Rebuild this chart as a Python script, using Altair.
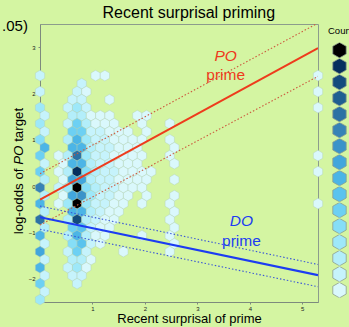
import altair as alt
import pandas as pd

# ---------------- data ----------------
x_domain = [0, 5.3]
y_domain = [-2.5, 3.5]
x_ticks = [1, 2, 3, 4, 5]
y_ticks = [-2, -1, 0, 1, 2, 3]

# hexbin grid (30 bins across x); rows alternate between the main and the offset lattice
hex_col_width = 5.3 / 30
hex_row_height = 0.1727
hex_row_origin = -0.032
# count level per bin, one string per hex row (row index, levels by column; '.' = empty, 1..9,a..g = 1..16)
hex_rows = [
    (14, "2.....11" + "." * 22 + "1"),
    (13, "....2"),
    (12, "2...21" + "." * 24 + "1"),
    (11, "...22..1"),
    (10, "4..242" + "." * 24 + "1"),
    (9, "2..33111..11"),
    (8, "4..263111..1..1"),
    (7, "2..6622111.1"),
    (6, "5..384221111..1"),
    (5, "8..88322111...1"),
    (4, "6.13c4221111..1" + "." * 15 + "1"),
    (3, "2.188322111...1"),
    (2, "6.13f53221111" + "." * 17 + "1"),
    (1, "3.1993221111..1"),
    (0, "b.24g5322111"),
    (-1, "3.19a42211.1..1"),
    (-2, "8.14g42211.1..1" + "." * 15 + "1"),
    (-3, "3..883211.....1"),
    (-4, "c..3e3211.....1"),
    (-5, "3..67211......1"),
    (-6, "8..38311...1..1"),
    (-7, "2..5721.......1"),
    (-8, "9..262...1....1"),
    (-9, "2..331"),
    (-10, "8..241"),
    (-11, "2..22"),
    (-12, "6...2"),
    (-13, "2"),
    (-14, "4"),
]

level_values = list(range(16, 0, -1))
level_colors = [
    "#000000", "#06305e", "#134b7d", "#1f5f91", "#2c72a4", "#3783b6",
    "#3b93c9", "#42a6dc", "#4cb5e6", "#5ac3ee", "#6dd0f3", "#86def7",
    "#9ee8f9", "#b3eefa", "#c6f3fc", "#daf8fc",
]

line_names = ["PO fit", "PO upper", "PO lower", "DO fit", "DO upper", "DO lower"]
line_x_start = [0, 0, 0, 0, 0, 0]
line_x_end = [5.3, 5.3, 5.3, 5.3, 5.3, 5.3]
line_y_start = [-0.29, 0.27, -0.84, -0.67, -0.43, -0.93]
line_y_end = [2.98, 3.52, 2.37, -1.92, -1.69, -2.17]

label_texts = ["PO", "prime", "DO", "prime"]
label_x = [3.54, 3.54, 3.84, 3.84]
label_y = [2.82, 2.39, -0.75, -1.19]
label_group = ["PO", "PO", "DO", "DO"]
label_italic = [True, False, True, False]

# free texts outside the plot area (title, pieces of the y title, clipped panel note)
note_texts = ["Recent surprisal priming", "(p < .05)", "log-odds of", "PO", "target"]
note_x = [2.837, -0.23, -0.315, -0.315, -0.315]
note_y = [3.624, 3.35, 0.382, 0.669, 0.956]
note_size = [16, 15, 13.3, 13.3, 13.3]
note_align = ["center", "right", "right", "center", "left"]
note_angle = [0, 0, 270, 270, 270]
note_italic = [False, False, False, True, False]

# ---------------- build tables ----------------
hx, hy, hl = [], [], []
for j, s in hex_rows:
    s = s.ljust(31, ".")
    for c, ch in enumerate(s):
        if ch != ".":
            hx.append((c + 0.5 * (j % 2)) * hex_col_width)
            hy.append(hex_row_origin + j * hex_row_height)
            hl.append(int(ch, 17))
hex_df = pd.DataFrame({"x": hx, "y": hy, "level": hl})

rows = []
for n, x0, x1, y0, y1 in zip(line_names, line_x_start, line_x_end, line_y_start, line_y_end):
    rows.append({"line": n, "x": x0, "y": y0})
    rows.append({"line": n, "x": x1, "y": y1})
line_df = pd.DataFrame(rows)

lab_df = pd.DataFrame({"text": label_texts, "x": label_x, "y": label_y,
                       "grp": label_group, "italic": label_italic})
note_df = pd.DataFrame({"text": note_texts, "x": note_x, "y": note_y, "size": note_size,
                        "align": note_align, "angle": note_angle, "italic": note_italic})

HEX = "M0,-1L0.866,-0.5L0.866,0.5L0,1L-0.866,0.5L-0.866,-0.5Z"
FONT = "Liberation Sans"
RED = "#ee3b1c"
RED_DOT = "#cc5a3e"
BLUE = "#1c3cf2"
BLUE_DOT = "#3b58d6"

xs = alt.Scale(domain=x_domain, nice=False, zero=False)
ys = alt.Scale(domain=y_domain, nice=False, zero=False)

x_axis = alt.Axis(values=x_ticks, labelFontSize=6, tickSize=2, labelPadding=1,
                  grid=False, domainColor="#7d8a7d", tickColor="#7d8a7d", labelColor="#222",
                  title="Recent surprisal of prime", titleFontSize=13, titleFontWeight="normal",
                  titleX=149, titleY=20.3, titleBaseline="alphabetic", titleColor="#000")
y_axis = alt.Axis(values=y_ticks, labelFontSize=6, tickSize=2, labelPadding=3,
                  grid=False, domainColor="#7d8a7d", tickColor="#7d8a7d", labelColor="#222",
                  title=None)

hexes = alt.Chart(hex_df).mark_point(
    shape=HEX, filled=True, size=114, opacity=1, stroke="#afcdb9", strokeWidth=0.4
).encode(
    x=alt.X("x:Q", scale=xs, axis=x_axis),
    y=alt.Y("y:Q", scale=ys, axis=y_axis),
    color=alt.Color("level:O", scale=alt.Scale(domain=level_values, range=level_colors),
                    legend=alt.Legend(title="Count", orient="none", legendX=288, legendY=2,
                                      symbolType=HEX, symbolSize=240, symbolStrokeColor="#8e9e8e",
                                      symbolStrokeWidth=0.8, symbolOffset=3, symbolOpacity=1,
                                      labelExpr="''", titleFontSize=9.5, titleFont=FONT,
                                      titleFontWeight="normal", titlePadding=7, rowPadding=0,
                                      clipHeight=15.3, padding=0, titleColor="#000")),
)


def lines(names, color, width, dash=None):
    kw = dict(color=color, strokeWidth=width, clip=True)
    if dash:
        kw["strokeDash"] = dash
    return alt.Chart(line_df).transform_filter(
        alt.FieldOneOfPredicate(field="line", oneOf=names)
    ).mark_line(**kw).encode(x=alt.X("x:Q", scale=xs), y=alt.Y("y:Q", scale=ys), detail="line:N")


po_dot = lines(["PO upper", "PO lower"], RED_DOT, 1.1, [1.5, 2])
do_dot = lines(["DO upper", "DO lower"], BLUE_DOT, 1.1, [1.5, 2])
po_fit = lines(["PO fit"], RED, 2)
do_fit = lines(["DO fit"], BLUE, 2.2)


def labels(grp, italic, color):
    return alt.Chart(lab_df).transform_filter(
        (alt.datum.grp == grp) & (alt.datum.italic == italic)
    ).mark_text(font=FONT, fontSize=15.5, fontStyle="italic" if italic else "normal",
                color=color, align="center", baseline="middle").encode(
        x=alt.X("x:Q", scale=xs), y=alt.Y("y:Q", scale=ys), text="text:N")


texts = [labels("PO", True, RED), labels("PO", False, RED),
         labels("DO", True, BLUE), labels("DO", False, BLUE)]


def note(i):
    r = note_df.iloc[i]
    return alt.Chart(note_df.iloc[[i]]).mark_text(
        font=FONT, fontSize=float(r["size"]), align=r["align"], baseline="alphabetic",
        angle=int(r["angle"]), fontStyle="italic" if r["italic"] else "normal", color="#000"
    ).encode(x=alt.X("x:Q", scale=xs), y=alt.Y("y:Q", scale=ys), text="text:N")


notes = [note(i) for i in range(len(note_df))]

chart = alt.layer(hexes, po_dot, do_dot, po_fit, do_fit, *texts, *notes).properties(
    width=278, height=278,
    autosize=alt.AutoSizeParams(type="none"),
    padding={"left": 40, "top": 24, "right": 31, "bottom": 25},
    background="#d4f5a2",
).configure(font=FONT).configure_view(stroke="#8c9c8c", strokeWidth=1)

chart.save("out.html", embed_options={"renderer": "svg", "actions": False})
